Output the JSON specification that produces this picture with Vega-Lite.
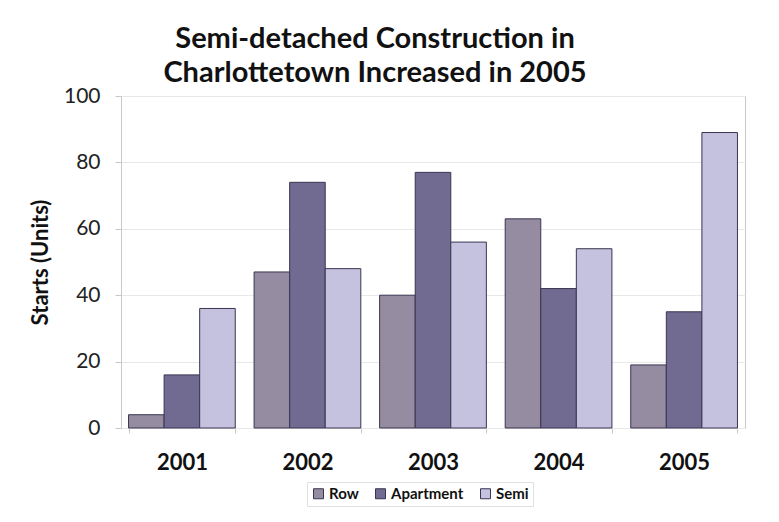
{
  "$schema": "https://vega.github.io/schema/vega-lite/v6.json",
  "width": 624,
  "height": 332,
  "autosize": {"type": "none"},
  "padding": {"left": 121, "top": 96, "right": 34, "bottom": 94},
  "background": "white",
  "title": {
    "text": ["Semi-detached Construction in", "Charlottetown Increased in 2005"],
    "font": "Lato",
    "fontSize": 29,
    "fontWeight": "bold",
    "color": "#111",
    "anchor": "middle",
    "dx": -58,
    "offset": -3,
    "lineHeight": 34
  },
  "data": {
    "values": [
      {"year": "2001", "type": "Row", "starts": 4},
      {"year": "2001", "type": "Apartment", "starts": 16},
      {"year": "2001", "type": "Semi", "starts": 36},
      {"year": "2002", "type": "Row", "starts": 47},
      {"year": "2002", "type": "Apartment", "starts": 74},
      {"year": "2002", "type": "Semi", "starts": 48},
      {"year": "2003", "type": "Row", "starts": 40},
      {"year": "2003", "type": "Apartment", "starts": 77},
      {"year": "2003", "type": "Semi", "starts": 56},
      {"year": "2004", "type": "Row", "starts": 63},
      {"year": "2004", "type": "Apartment", "starts": 42},
      {"year": "2004", "type": "Semi", "starts": 54},
      {"year": "2005", "type": "Row", "starts": 19},
      {"year": "2005", "type": "Apartment", "starts": 35},
      {"year": "2005", "type": "Semi", "starts": 89}
    ]
  },
  "mark": {"type": "bar", "stroke": "#3a3550", "strokeWidth": 1},
  "encoding": {
    "x": {
      "field": "year",
      "type": "nominal",
      "scale": {"paddingInner": 0.15, "paddingOuter": 0.06},
      "axis": {
        "title": null,
        "labelAngle": 0,
        "labelFont": "Lato",
        "labelFontSize": 22,
        "labelFontWeight": "bold",
        "labelColor": "#111",
        "labelPadding": 19,
        "domain": false,
        "ticks": true,
        "tickBand": "extent",
        "tickColor": "#c8c8c8",
        "tickSize": 5
      }
    },
    "xOffset": {"field": "type", "type": "nominal", "sort": ["Row", "Apartment", "Semi"], "scale": {"paddingInner": 0, "paddingOuter": 0}},
    "y": {
      "field": "starts",
      "type": "quantitative",
      "scale": {"domain": [0, 100]},
      "axis": {
        "title": "Starts (Units)",
        "titleFont": "Lato",
        "titleFontSize": 22,
        "titleFontWeight": "bold",
        "titleColor": "#111",
        "titlePadding": 11,
        "values": [0, 20, 40, 60, 80, 100],
        "labelFont": "Lato",
        "labelFontSize": 21,
        "labelColor": "#222",
        "labelPadding": 15,
        "tickColor": "#c8c8c8",
        "tickSize": 6,
        "domainColor": "#c8c8c8",
        "gridColor": "#e8e8e8",
        "grid": true
      }
    },
    "color": {
      "field": "type",
      "type": "nominal",
      "sort": ["Row", "Apartment", "Semi"],
      "scale": {"domain": ["Row", "Apartment", "Semi"], "range": ["#958ca1", "#716a91", "#c4c2df"]},
      "legend": {
        "title": null,
        "orient": "none",
        "legendX": 186,
        "legendY": 386,
        "direction": "horizontal",
        "symbolType": "square",
        "symbolSize": 100,
        "symbolStrokeColor": "#3a3550",
        "symbolStrokeWidth": 1,
        "labelFont": "Lato",
        "labelFontSize": 15,
        "labelFontWeight": "bold",
        "labelColor": "#111",
        "labelOffset": 3,
        "columnPadding": 14,
        "padding": 4,
        "strokeColor": "#e0e0e0"
      }
    }
  },
  "config": {
    "view": {"stroke": "#c8c8c8"}
  }
}
